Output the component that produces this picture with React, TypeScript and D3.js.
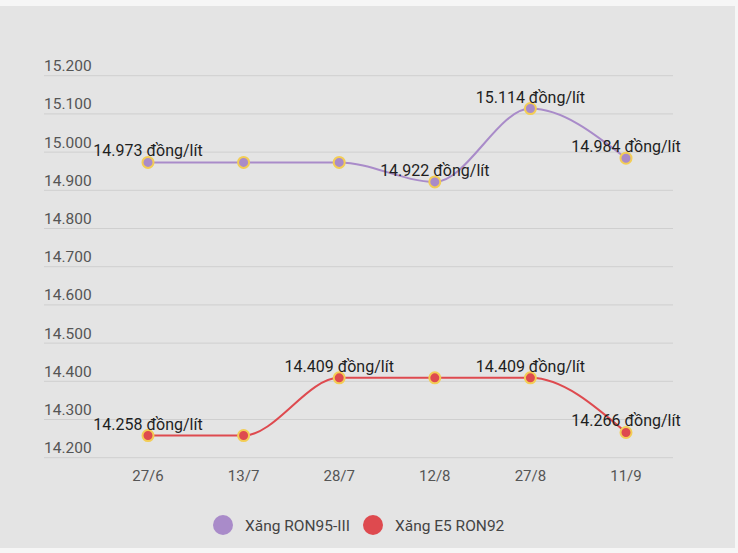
import React, { useEffect, useRef } from 'react';
import * as d3 from 'd3';

const dates = ['27/6', '13/7', '28/7', '12/8', '27/8', '11/9'];
const ron95 = [14973, 14973, 14973, 14922, 15114, 14984];
const e5 = [14258, 14258, 14409, 14409, 14409, 14266];
// labels that the original chart kept after hiding overlaps
const ron95Shown = [true, false, false, true, true, true];
const e5Shown = [true, false, true, false, true, true];
const yTicks = [14200, 14300, 14400, 14500, 14600, 14700, 14800, 14900, 15000, 15100, 15200];
const seriesNames = ['Xăng RON95-III', 'Xăng E5 RON92'];
const seriesColors = ['#a98bc9', '#de4a4f'];

const fmt = (v: number) => d3.format('.3f')(v / 1000);

const App: React.FC = () => {
  const svgRef = useRef<SVGSVGElement>(null);

  useEffect(() => {
    if (!svgRef.current) return;
    const svg = d3.select(svgRef.current);
    svg.selectAll('*').remove();

    const width = 738;
    const height = 553;

    // background
    svg.append('rect').attr('width', width).attr('height', height).attr('fill', '#f6f6f6');
    svg.append('rect').attr('x', 0).attr('y', 6).attr('width', 735).attr('height', 542).attr('fill', '#e4e4e4');

    const x = d3.scalePoint<string>().domain(dates).range([148, 626]);
    const y = d3.scaleLinear().domain([14200, 15200]).range([457.7, 75.7]);

    // grid + y labels
    const grid = svg.append('g');
    yTicks.forEach(t => {
      grid.append('line')
        .attr('x1', 44).attr('x2', 673)
        .attr('y1', y(t)).attr('y2', y(t))
        .attr('stroke', '#cfcfcf').attr('stroke-width', 1);
      grid.append('text')
        .attr('x', 44).attr('y', y(t) - 4.5)
        .attr('font-family', 'Roboto, sans-serif')
        .attr('font-size', 15.5)
        .attr('fill', '#555')
        .text(fmt(t));
    });

    // x labels
    dates.forEach(d => {
      svg.append('text')
        .attr('x', x(d)!).attr('y', 481)
        .attr('text-anchor', 'middle')
        .attr('font-family', 'Roboto, sans-serif')
        .attr('font-size', 15)
        .attr('fill', '#555')
        .text(d);
    });

    const line = d3.line<number>()
      .x((_, i) => x(dates[i])!)
      .y(v => y(v))
      .curve(d3.curveMonotoneX);

    const shown = [ron95Shown, e5Shown];
    [ron95, e5].forEach((data, si) => {
      svg.append('path')
        .datum(data)
        .attr('fill', 'none')
        .attr('stroke', seriesColors[si])
        .attr('stroke-width', 2)
        .attr('d', line);

      data.forEach((v, i) => {
        svg.append('circle')
          .attr('cx', x(dates[i])!).attr('cy', y(v))
          .attr('r', 5.5)
          .attr('fill', seriesColors[si])
          .attr('stroke', '#f3cd55')
          .attr('stroke-width', 2);
      });
    });

    [ron95, e5].forEach((data, si) => {
      data.forEach((v, i) => {
        if (!shown[si][i]) return;
        svg.append('text')
          .attr('x', x(dates[i])!).attr('y', y(v) - 6)
          .attr('text-anchor', 'middle')
          .attr('font-family', 'Roboto, sans-serif')
          .attr('font-weight', 400)
          .attr('font-size', 16)
          .attr('fill', '#1e1e1e')
          .text(`${fmt(v)} đồng/lít`);
      });
    });

    // legend
    const legendItems = [{ cx: 223, tx: 245 }, { cx: 373, tx: 395 }];
    seriesNames.forEach((name, i) => {
      svg.append('circle')
        .attr('cx', legendItems[i].cx).attr('cy', 525)
        .attr('r', 10)
        .attr('fill', seriesColors[i]);
      svg.append('text')
        .attr('x', legendItems[i].tx).attr('y', 531)
        .attr('font-family', 'Roboto, sans-serif')
        .attr('font-size', 15.5)
        .attr('fill', '#444')
        .text(name);
    });
  }, []);

  return (
    <svg
      ref={svgRef}
      width={738}
      height={553}
      style={{ position: 'absolute', left: 0, top: 0, display: 'block' }}
    />
  );
};

export default App;
